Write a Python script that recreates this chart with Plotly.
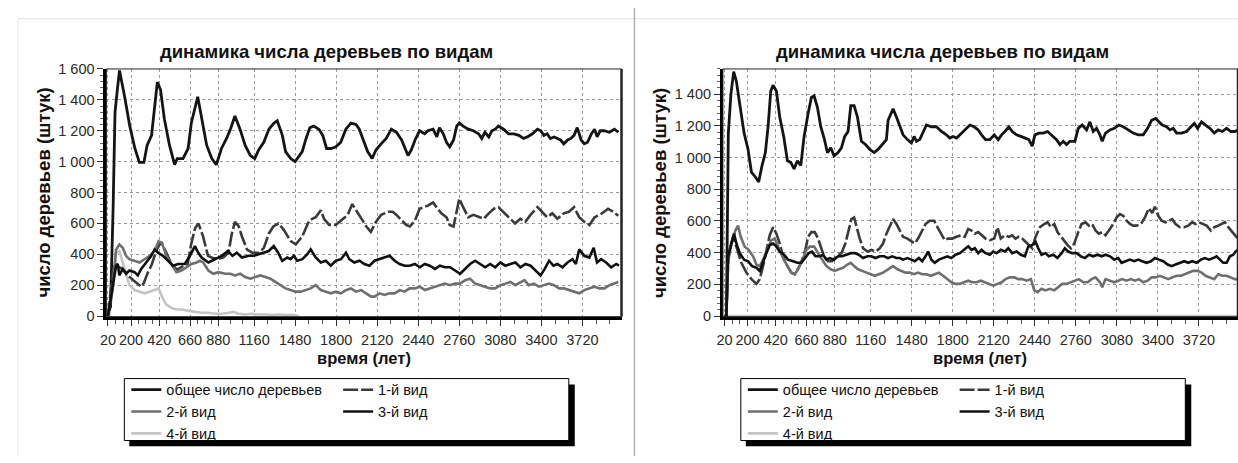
import plotly.graph_objects as go

# ---------------- data: left panel ----------------
L_total_t = [20,40,60,75,95,110,150,190,230,265,300,325,360,405,430,460,500,540,560,605,645,670,720,750,790,830,865,905,945,975,1010,1050,1090,1130,1165,1195,1235,1275,1315,1340,1380,1405,1445,1480,1510,1535,1565,1595,1625,1665,1695,1725,1760,1795,1835,1875,1915,1955,1980,2005,2045,2080,2110,2150,2190,2230,2270,2310,2335,2360,2385,2415,2450,2490,2515,2555,2585,2605,2635,2660,2685,2715,2740,2760,2790,2830,2870,2910,2935,2960,2990,3015,3040,3065,3105,3145,3185,3225,3260,3290,3330,3370,3395,3420,3445,3470,3500,3525,3550,3575,3605,3630,3655,3680,3710,3735,3760,3790,3815,3835,3860,3890,3930,3970,4000]
L_total_v = [20,60,700,1320,1480,1590,1420,1230,1085,995,995,1105,1170,1515,1465,1275,1105,980,1020,1020,1085,1250,1420,1275,1105,1020,980,1085,1150,1210,1295,1210,1105,1040,1020,1075,1125,1210,1250,1265,1170,1065,1020,1000,1040,1065,1150,1220,1230,1210,1170,1085,1085,1095,1125,1210,1250,1240,1210,1150,1065,1020,1075,1115,1150,1210,1190,1140,1085,1040,1075,1140,1200,1180,1200,1210,1160,1220,1180,1125,1095,1140,1230,1250,1230,1210,1200,1180,1150,1190,1160,1200,1210,1230,1210,1180,1180,1170,1150,1160,1180,1210,1200,1170,1180,1150,1160,1150,1140,1115,1140,1150,1170,1220,1140,1115,1125,1180,1210,1160,1200,1200,1190,1210,1190]

L_sp1_t = [20,40,60,80,100,140,180,220,260,280,300,330,360,400,435,480,520,560,600,640,670,700,725,760,800,840,880,920,960,985,1010,1040,1065,1105,1145,1195,1235,1275,1310,1350,1390,1445,1485,1535,1590,1640,1680,1705,1745,1795,1850,1890,1925,1955,1995,2035,2070,2110,2150,2205,2240,2270,2310,2345,2375,2415,2450,2490,2515,2555,2585,2620,2660,2685,2715,2735,2760,2790,2830,2870,2910,2950,2990,3030,3065,3105,3145,3195,3235,3275,3315,3370,3405,3445,3485,3525,3575,3615,3655,3695,3735,3775,3815,3855,3890,3920,3960,4000]
L_sp1_v = [0,150,300,340,320,300,260,230,200,190,215,280,330,430,480,400,330,300,320,330,470,570,600,520,390,375,370,380,410,530,610,580,515,430,410,410,440,535,580,600,560,485,465,515,620,640,685,630,590,590,630,655,725,685,640,580,545,610,655,675,675,655,620,590,580,620,695,705,715,735,705,665,640,590,580,665,760,705,640,655,640,630,665,695,705,675,640,600,630,610,655,705,675,640,665,630,665,675,705,640,610,590,640,655,675,695,675,650]

L_sp2_t = [20,57,83,109,135,161,187,227,266,305,345,384,415,441,475,515,554,593,633,672,711,737,763,803,842,881,934,973,1012,1051,1090,1130,1169,1208,1248,1287,1326,1366,1405,1444,1483,1523,1562,1601,1640,1680,1719,1758,1797,1837,1876,1915,1954,1994,2033,2072,2099,2138,2177,2216,2256,2295,2334,2373,2413,2452,2491,2530,2570,2609,2648,2687,2727,2766,2805,2844,2883,2923,2962,3001,3040,3080,3119,3158,3197,3237,3268,3302,3341,3381,3420,3460,3499,3538,3577,3617,3656,3695,3735,3774,3813,3853,3892,3931,3970,4000]
L_sp2_v = [0,180,430,463,442,390,368,358,347,368,390,421,484,474,390,337,284,295,316,337,347,358,347,295,274,284,274,274,263,274,253,242,253,263,253,242,221,200,179,168,158,158,168,179,200,168,158,147,158,147,168,179,158,168,147,126,126,147,137,147,147,168,158,179,179,190,168,179,190,200,210,200,210,210,232,242,210,200,190,179,179,200,210,221,200,221,232,200,210,190,200,210,200,179,179,168,158,147,168,179,190,179,179,200,210,221]

L_sp3_t = [20,60,83,96,109,135,161,187,227,253,279,318,358,384,410,449,489,528,567,619,659,698,724,750,803,856,907,955,991,1025,1064,1117,1156,1195,1235,1274,1313,1347,1379,1418,1444,1470,1496,1536,1575,1601,1640,1680,1719,1758,1797,1837,1876,1902,1941,1981,2020,2059,2099,2138,2177,2216,2256,2295,2334,2373,2413,2452,2491,2530,2570,2609,2648,2687,2727,2766,2805,2844,2883,2923,2962,3001,3040,3080,3119,3158,3197,3237,3276,3316,3355,3394,3426,3460,3494,3525,3565,3604,3643,3669,3695,3735,3774,3808,3834,3866,3905,3944,3984,4005]
L_sp3_v = [0,220,326,337,263,305,274,295,284,263,305,347,390,432,410,390,358,326,337,337,390,453,410,379,347,368,390,421,390,410,379,390,390,400,410,421,453,410,358,379,368,390,358,368,400,432,379,347,358,326,358,368,410,368,347,358,337,326,358,368,379,390,358,337,326,326,337,316,337,326,305,326,316,316,295,274,305,337,358,337,316,337,316,347,326,337,347,316,337,326,295,263,305,358,326,337,316,347,368,337,432,390,379,442,347,368,347,316,337,326]

L_sp4_t = [20,30,57,83,109,135,161,187,227,266,305,345,384,415,441,475,515,554,593,646,698,750,803,856,907,960,999,1038,1090,1143,1195,1248,1300,1353,1405,1457,1510]
L_sp4_v = [0,0,180,410,421,347,263,200,168,158,147,158,168,179,126,74,53,42,42,32,27,21,21,15,15,21,27,15,10,15,10,10,6,10,6,8,0]

# ---------------- data: right panel ----------------
R_total_t = [20,35,50,70,92,113,139,173,204,230,261,287,313,339,360,381,399,425,451,482,511,537,563,589,615,641,672,698,719,745,771,797,823,849,875,906,932,958,984,1005,1031,1057,1088,1120,1153,1187,1218,1257,1283,1296,1335,1361,1387,1413,1447,1478,1499,1517,1543,1569,1595,1634,1673,1712,1751,1777,1803,1830,1869,1900,1934,1967,1999,2025,2056,2090,2124,2155,2181,2207,2238,2264,2298,2332,2363,2394,2420,2441,2472,2506,2540,2571,2610,2636,2662,2688,2714,2753,2779,2810,2844,2870,2896,2922,2948,2966,2992,3026,3060,3096,3130,3169,3208,3247,3286,3320,3351,3382,3408,3434,3468,3494,3520,3546,3585,3624,3658,3684,3710,3741,3772,3806,3840,3871,3902,3936,3970,4001,4024]
R_total_v = [0,0,1150,1400,1543,1482,1339,1155,1052,909,878,847,950,1032,1195,1421,1457,1421,1257,1134,980,970,929,980,950,1134,1277,1380,1390,1318,1195,1124,1032,1062,1011,1032,1062,1134,1165,1329,1329,1257,1103,1083,1052,1032,1052,1093,1114,1236,1308,1257,1195,1144,1114,1093,1134,1103,1114,1165,1206,1195,1195,1165,1144,1124,1134,1124,1155,1175,1206,1195,1175,1144,1114,1114,1144,1114,1144,1165,1195,1165,1144,1134,1124,1114,1073,1144,1155,1155,1165,1144,1114,1083,1103,1083,1103,1103,1185,1206,1175,1226,1165,1185,1144,1103,1155,1175,1185,1206,1195,1175,1155,1144,1144,1185,1236,1247,1226,1206,1195,1175,1185,1155,1155,1165,1195,1216,1185,1226,1206,1185,1155,1175,1165,1185,1165,1165,1175]

R_sp1_t = [20,35,50,87,105,126,152,191,230,269,295,321,347,373,399,425,451,477,511,542,568,599,625,651,672,698,724,750,771,797,828,859,893,932,963,989,1010,1031,1049,1075,1101,1135,1166,1198,1231,1257,1283,1309,1335,1361,1387,1413,1447,1478,1504,1530,1556,1588,1621,1655,1681,1712,1738,1764,1796,1830,1869,1894,1921,1947,1973,1999,2025,2056,2090,2124,2149,2175,2207,2238,2264,2290,2316,2342,2368,2394,2420,2446,2480,2514,2540,2566,2592,2617,2644,2670,2696,2722,2748,2779,2805,2836,2862,2888,2914,2940,2966,2992,3026,3052,3078,3104,3130,3156,3182,3208,3234,3268,3299,3330,3356,3377,3403,3429,3460,3486,3512,3538,3572,3606,3637,3668,3694,3720,3746,3780,3814,3840,3871,3897,3923,3949,3980,4006,4024]
R_sp1_v = [0,0,380,500,458,397,336,274,233,203,233,315,418,510,561,520,459,377,315,274,264,305,356,418,500,530,530,489,438,377,346,346,377,397,458,540,612,622,561,489,428,407,418,407,428,458,520,571,612,581,540,500,489,469,458,489,530,581,602,602,561,520,479,489,489,500,510,500,550,540,520,530,510,489,479,489,561,489,510,500,510,489,500,489,469,450,428,500,561,581,592,561,581,530,500,479,448,428,458,530,581,592,571,581,540,520,530,510,550,581,622,643,633,602,581,571,571,581,622,680,650,690,633,602,592,602,612,581,561,561,571,592,581,592,581,571,540,561,571,581,592,561,530,500,489]

R_sp2_t = [20,35,48,74,105,126,147,178,209,243,269,295,321,355,386,412,443,477,511,542,568,594,625,659,685,719,750,781,815,849,880,911,945,979,1005,1031,1062,1093,1127,1161,1192,1224,1257,1296,1335,1369,1400,1432,1465,1499,1530,1562,1595,1629,1660,1692,1725,1759,1790,1822,1856,1889,1921,1952,1986,2019,2051,2082,2116,2149,2181,2212,2246,2280,2311,2342,2376,2410,2436,2462,2493,2524,2558,2592,2623,2654,2688,2722,2753,2784,2818,2852,2883,2914,2948,2966,2992,3026,3060,3091,3122,3156,3190,3221,3252,3286,3320,3351,3382,3416,3450,3481,3512,3546,3580,3611,3642,3676,3710,3741,3772,3806,3840,3871,3902,3936,3970,4001,4024]
R_sp2_v = [0,0,336,458,540,571,500,438,418,377,325,315,356,418,479,489,428,366,315,274,264,295,346,418,438,438,397,356,315,295,285,295,305,325,336,315,295,285,274,264,254,264,274,295,315,295,285,274,274,264,274,264,264,254,264,274,254,233,213,203,203,213,223,213,213,223,213,203,192,203,213,233,244,244,233,233,223,233,162,151,172,162,172,162,182,203,203,213,223,233,213,213,233,244,213,182,233,223,213,223,233,223,233,223,233,213,223,244,244,254,244,233,244,254,254,264,274,285,285,274,254,244,233,264,254,254,244,233,233]

R_sp3_t = [20,35,48,74,95,113,139,173,204,235,269,295,321,347,373,399,425,451,485,516,555,589,620,646,677,703,729,763,789,815,841,875,906,937,971,1005,1036,1067,1101,1135,1166,1198,1231,1265,1296,1327,1361,1387,1413,1447,1478,1504,1536,1562,1588,1608,1634,1660,1692,1725,1759,1790,1822,1856,1889,1921,1947,1973,1999,2025,2056,2090,2116,2142,2175,2207,2233,2264,2298,2332,2363,2389,2420,2446,2467,2493,2524,2550,2584,2617,2649,2675,2701,2732,2766,2800,2831,2862,2896,2930,2961,2992,3026,3060,3091,3117,3148,3182,3216,3247,3278,3312,3346,3377,3408,3442,3476,3507,3538,3572,3606,3637,3668,3702,3736,3767,3798,3832,3858,3884,3910,3936,3962,3988,4006,4024]
R_sp3_v = [0,0,377,458,520,458,397,356,346,315,305,285,346,397,448,458,438,407,387,356,346,336,336,366,397,407,377,377,387,356,366,356,377,377,387,397,397,387,366,377,377,366,377,377,366,377,366,366,356,366,356,346,366,346,377,407,356,336,356,366,377,366,387,397,420,440,418,428,397,418,397,387,407,397,418,407,428,397,407,387,377,438,448,469,428,387,397,377,387,366,397,428,407,397,397,377,366,387,377,387,377,387,377,356,366,336,346,356,346,356,346,336,346,366,356,346,325,315,325,336,346,336,346,336,356,366,356,366,377,356,336,336,377,387,407,418]

R_sp4_t = [20,4024]
R_sp4_v = [0,0]

# ---------------- labels ----------------
TITLE = "динамика числа деревьев по видам"
Y_TITLE = "число деревьев (штук)"
X_TITLE = "время (лет)"
NAMES = ["общее число деревьев", "1-й вид", "2-й вид", "3-й вид", "4-й вид"]
X_TICKS = [20, 200, 420, 660, 880, 1160, 1480, 1800, 2120, 2440, 2760, 3080, 3400, 3720]
L_Y_TICKS = [0, 200, 400, 600, 800, 1000, 1200, 1400, 1600]
L_Y_TEXT = ["0", "200", "400", "600", "800", "1 000", "1 200", "1 400", "1 600"]
R_Y_TICKS = [0, 200, 400, 600, 800, 1000, 1200, 1400]
R_Y_TEXT = ["0", "200", "400", "600", "800", "1 000", "1 200", "1 400"]

W, H = 1238, 463
FONT = "Liberation Sans, Arial, sans-serif"

def px(x):
    return x / W

def py(y):
    return 1 - y / H

STYLES = [
    dict(color="#141414", width=2.8),
    dict(color="#3a3a3a", width=2.6, dash="15px,3px"),
    dict(color="#6f6f6f", width=2.6),
    dict(color="#101010", width=2.6),
    dict(color="#c4c4c4", width=2.6),
]

# minor tick positions (style only)
minor_x = []
parts = [3, 4, 4, 4, 3, 3, 3, 3, 3, 3, 3, 3, 3]
for i in range(len(X_TICKS) - 1):
    a, b = X_TICKS[i], X_TICKS[i + 1]
    n = parts[i]
    for k in range(1, n):
        minor_x.append(a + (b - a) * k / n)
for k in range(1, 3):
    minor_x.append(3720 + 107 * k)

fig = go.Figure()

left = [(L_total_t, L_total_v), (L_sp1_t, L_sp1_v), (L_sp2_t, L_sp2_v), (L_sp3_t, L_sp3_v), (L_sp4_t, L_sp4_v)]
right = [(R_total_t, R_total_v), (R_sp1_t, R_sp1_v), (R_sp2_t, R_sp2_v), (R_sp3_t, R_sp3_v), (R_sp4_t, R_sp4_v)]

col_of = {0: 0, 1: 1, 2: 0, 3: 1, 4: 0}
order = [4, 0, 1, 2, 3]
for i in order:
    t, v = left[i]
    fig.add_trace(go.Scatter(x=t, y=v, mode="lines", name=NAMES[i], line=STYLES[i],
                             xaxis="x", yaxis="y", legendrank=i,
                             legend="legend" if col_of[i] == 0 else "legend2"))
for i in order:
    t, v = right[i]
    fig.add_trace(go.Scatter(x=t, y=v, mode="lines", name=NAMES[i], line=STYLES[i],
                             xaxis="x2", yaxis="y2", legendrank=i,
                             legend="legend3" if col_of[i] == 0 else "legend4"))

tickfont = dict(family=FONT, size=14.5, color="#2a2a2a")
grid = dict(showgrid=True, gridcolor="#9a9a9a", gridwidth=1, griddash="dot")

def xaxis(dom, anchor):
    return dict(domain=dom, anchor=anchor, range=[8, 4025], tickmode="array", tickvals=X_TICKS,
                ticktext=[str(v) for v in X_TICKS], ticks="outside", ticklen=6, tickwidth=1,
                tickcolor="#333", showline=True, linecolor="#000", linewidth=3, zeroline=False,
                tickfont=tickfont, ticklabelstandoff=2,
                minor=dict(tickmode="array", tickvals=minor_x, ticks="outside", ticklen=4,
                           tickcolor="#555", showgrid=False), **grid)

def yaxis(dom, anchor, rng, tv, tt):
    return dict(domain=dom, anchor=anchor, range=rng, tickmode="array", tickvals=tv, ticktext=tt,
                ticks="outside", ticklen=6, tickwidth=1, tickcolor="#333", showline=True,
                linecolor="#000", linewidth=3, zeroline=False, tickfont=tickfont,
                minor=dict(dtick=40, ticks="outside", ticklen=3, tickcolor="#666", showgrid=False),
                **grid)

ydom = [py(319), py(63)]
fig.update_layout(
    width=W, height=H, margin=dict(l=0, r=0, t=0, b=0),
    paper_bgcolor="white", plot_bgcolor="white",
    font=dict(family=FONT, color="#111"),
    xaxis=xaxis([px(100), px(618)], "y"),
    yaxis=yaxis(ydom, "x", [-4, 1600], L_Y_TICKS, L_Y_TEXT),
    xaxis2=xaxis([px(720), px(1238)], "y2"),
    yaxis2=yaxis(ydom, "x2", [-4, 1560], R_Y_TICKS, R_Y_TEXT),
)

legfont = dict(family=FONT, size=14.5, color="#111")
def leg(x, y):
    return dict(x=px(x), y=py(y), xanchor="left", yanchor="top", orientation="v",
                bgcolor="rgba(0,0,0,0)", borderwidth=0, font=legfont, itemwidth=30,
                tracegroupgap=0, traceorder="normal")

fig.update_layout(legend=leg(120, 378), legend2=leg(333, 378),
                  legend3=leg(740, 378), legend4=leg(953, 378))

shapes = []
# page frame / separator
shapes.append(dict(type="line", xref="paper", yref="paper", x0=px(11), x1=1, y0=py(11), y1=py(11),
                   line=dict(color="#e2e2e2", width=1)))
shapes.append(dict(type="line", xref="paper", yref="paper", x0=px(11), x1=px(11), y0=0, y1=py(11),
                   line=dict(color="#e8e8e8", width=1)))
shapes.append(dict(type="line", xref="paper", yref="paper", x0=px(631), x1=px(631), y0=0, y1=1,
                   line=dict(color="#b0b0b0", width=1.5)))
# plot frames
for xa, ya in (("x", "y"), ("x2", "y2")):
    shapes.append(dict(type="rect", xref=xa + " domain", yref=ya + " domain", x0=0, x1=1, y0=0, y1=1,
                       line=dict(color="#222", width=1), layer="above"))
    shapes.append(dict(type="line", xref=xa + " domain", yref=ya + " domain", x0=1, x1=1, y0=0, y1=1,
                       line=dict(color="#222", width=2.5), layer="above"))
# legend boxes with shadows
for x0, x1 in ((118, 565), (738, 1185)):
    shapes.append(dict(type="rect", xref="paper", yref="paper", x0=px(x0 + 5), x1=px(x1 + 6),
                       y0=py(453), y1=py(389), fillcolor="#000", line=dict(width=0), layer="below"))
    shapes.append(dict(type="rect", xref="paper", yref="paper", x0=px(x0), x1=px(x1),
                       y0=py(447), y1=py(383), fillcolor="#fff", line=dict(color="#000", width=1),
                       layer="below"))
fig.update_layout(shapes=shapes)

ann = []
for cx in (321, 941):
    ann.append(dict(text="<b>" + TITLE + "</b>", x=px(cx), y=py(45), xref="paper", yref="paper",
                    showarrow=False, xanchor="center", yanchor="middle",
                    font=dict(family=FONT, size=18.5, color="#111")))
for cx in (37, 657):
    ann.append(dict(text="<b>" + Y_TITLE + "</b>", x=px(cx), y=py(191), xref="paper", yref="paper",
                    showarrow=False, xanchor="center", yanchor="middle", textangle=-90,
                    font=dict(family=FONT, size=18.5, color="#111")))
for cx in (359, 979):
    ann.append(dict(text="<b>" + X_TITLE + "</b>", x=px(cx), y=py(362), xref="paper", yref="paper",
                    showarrow=False, xanchor="center", yanchor="middle",
                    font=dict(family=FONT, size=16.5, color="#111")))
fig.update_layout(annotations=ann)

fig.write_html("out.html", config={"displayModeBar": False},
               post_script="document.body.style.margin='0';document.body.style.overflow='hidden';")
